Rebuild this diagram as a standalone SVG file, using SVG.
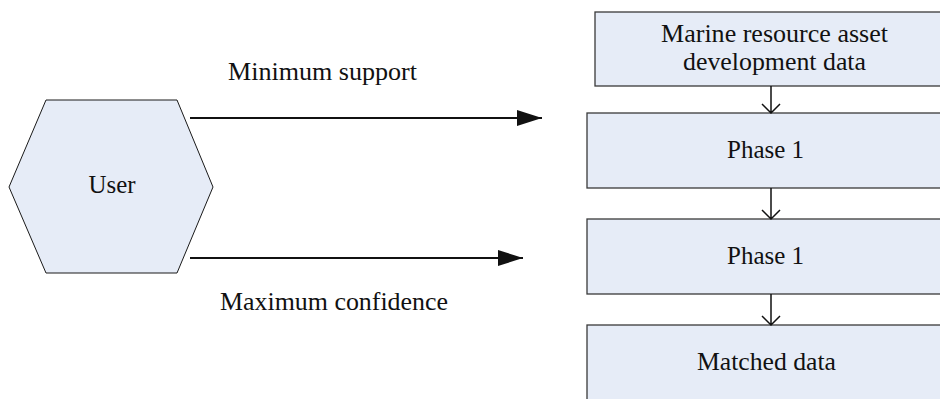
<svg xmlns="http://www.w3.org/2000/svg" width="940" height="399" viewBox="0 0 940 399">
<style>
.node{fill:#E6ECF7;stroke:#3a3a3a;stroke-width:1.3}
.hex{fill:#E6ECF7;stroke:#1a1a1a;stroke-width:1}
text{font-family:'Liberation Serif','Times New Roman',serif;font-size:25px;fill:#111;text-anchor:middle}
.flow{stroke:#111;stroke-width:1.5;fill:none}
.in{stroke:#111;stroke-width:2;fill:none}
</style>
<defs>
<marker id="filled" markerWidth="25" markerHeight="16" refX="25" refY="8" orient="auto" markerUnits="userSpaceOnUse">
<path d="M0,0 L25,8 L0,16 Z" fill="#111"/>
</marker>
</defs>
<g id="user">
<polygon class="hex" points="46,100 177,100 213,187 177,273 46,273 9,187"/>
<text x="112" y="193" textLength="47" lengthAdjust="spacingAndGlyphs">User</text>
</g>
<g id="marine">
<rect class="node" x="595" y="12" width="360" height="74"/>
<text x="774.5" y="42" textLength="227" lengthAdjust="spacingAndGlyphs">Marine resource asset</text>
<text x="774.5" y="70" textLength="183" lengthAdjust="spacingAndGlyphs">development data</text>
</g>
<g id="phase1a">
<rect class="node" x="587" y="113" width="370" height="75"/>
<text x="765.5" y="158" textLength="77" lengthAdjust="spacingAndGlyphs">Phase 1</text>
</g>
<g id="phase1b">
<rect class="node" x="587" y="219" width="370" height="75"/>
<text x="765.5" y="264" textLength="77" lengthAdjust="spacingAndGlyphs">Phase 1</text>
</g>
<g id="matched">
<rect class="node" x="587" y="325" width="370" height="90"/>
<text x="766.5" y="370" textLength="139" lengthAdjust="spacingAndGlyphs">Matched data</text>
</g>
<g id="connectors">
<line class="in" x1="190" y1="118" x2="542" y2="118" marker-end="url(#filled)"/>
<text x="322.5" y="80" textLength="189" lengthAdjust="spacingAndGlyphs">Minimum support</text>
<line class="in" x1="190" y1="258" x2="523" y2="258" marker-end="url(#filled)"/>
<text x="334" y="310" textLength="228" lengthAdjust="spacingAndGlyphs">Maximum confidence</text>
<path class="flow" d="M771,86 V113 M762,104 L771,113 L780,104"/>
<path class="flow" d="M771,188 V219 M762,210 L771,219 L780,210"/>
<path class="flow" d="M771,294 V325 M762,316 L771,325 L780,316"/>
</g>
</svg>
